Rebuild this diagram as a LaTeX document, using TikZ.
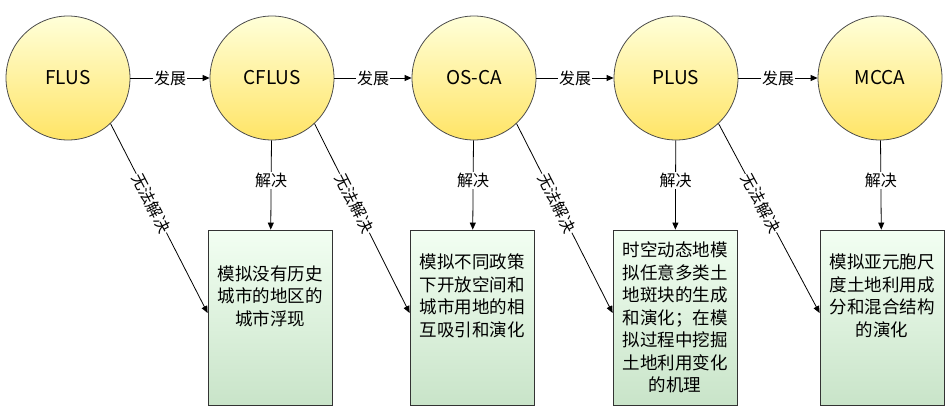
\documentclass[tikz,border=0pt]{standalone}
\usepackage{fontspec}
\setmainfont{Noto Sans CJK SC}
\usetikzlibrary{arrows.meta,positioning}

\tikzset{
  model/.style={circle,draw=black!70,thick,minimum size=124pt,inner sep=0pt,
    top color=yellow!15!white,bottom color=orange!35!yellow!60,font=\fontsize{19}{22}\selectfont},
  task/.style={rectangle,draw=black!80,thick,minimum width=124pt,minimum height=175pt,
    align=center,inner sep=4pt,
    top color=green!5!white,bottom color=green!50!black!25!white!85,
    font=\fontsize{17.5}{22.5}\selectfont},
  link/.style={thick,-{Triangle[length=7pt,width=6pt]}},
  lab/.style={fill=white,inner sep=1pt,font=\fontsize{16}{16}\selectfont}
}

\begin{document}
\begin{tikzpicture}[x=1pt,y=-1pt]
  \useasboundingbox (0,0) rectangle (952,410);

  % models along the top
  \node[model] (flus) at (68,78) {FLUS};
  \node[model] (cflus) at (272,78) {CFLUS};
  \node[model] (osca) at (474,78) {OS-CA};
  \node[model] (plus) at (676,78) {PLUS};
  \node[model] (mcca) at (880,78) {MCCA};

  % what each one solves
  \node[task] (t1) at (270,317.5) {模拟没有历史\\城市的地区的\\城市浮现\\[22pt]};
  \node[task] (t2) at (472,317.5) {模拟不同政策\\下开放空间和\\城市用地的相\\互吸引和演化\\[22pt]};
  \node[task] (t3) at (675,317.5) {时空动态地模\\拟任意多类土\\地斑块的生成\\和演化；在模\\拟过程中挖掘\\土地利用变化\\的机理};
  \node[task] (t4) at (882,317.5) {模拟亚元胞尺\\度土地利用成\\分和混合结构\\的演化\\[22pt]};

  % development chain
  \foreach \a/\b in {flus/cflus,cflus/osca,osca/plus,plus/mcca}
    \draw[link] (\a) -- node[lab] {发展} (\b);

  % solved
  \foreach \a/\b in {cflus/t1,osca/t2,plus/t3,mcca/t4}
    \draw[link] (\a) -- node[lab,pos=0.45] {解决} (\b);

  % unsolved
  \foreach \a/\b in {flus/t1,cflus/t2,osca/t3,plus/t4}
    \draw[link] (\a.-47) -- node[lab,sloped,pos=0.42] {无法解决} (\b.west|-0,313);
\end{tikzpicture}
\end{document}
